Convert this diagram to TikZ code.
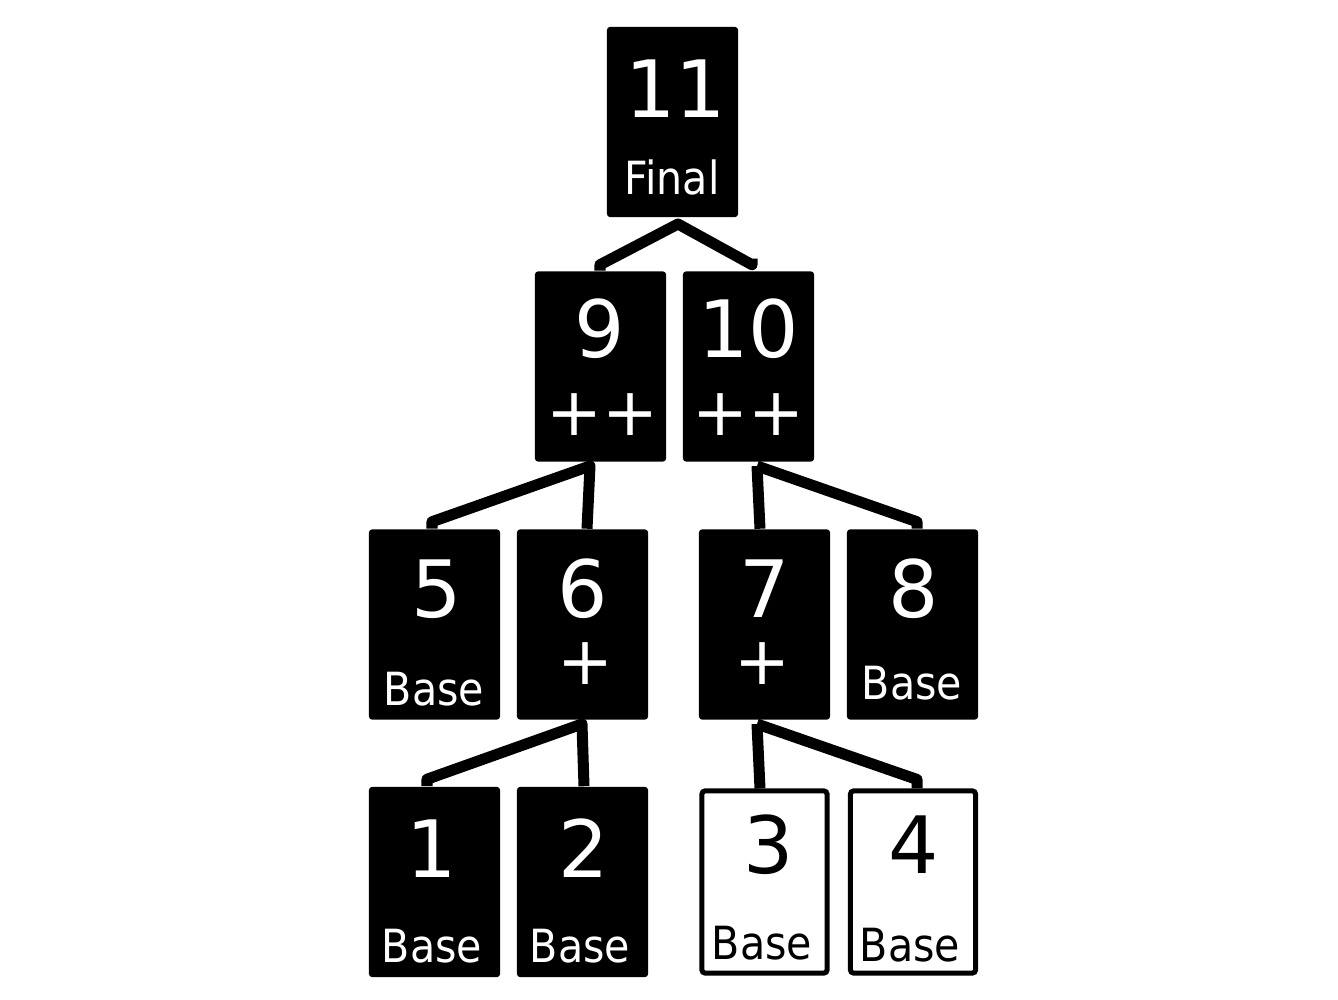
\documentclass[tikz,border=0pt]{standalone}
\usepackage{fontspec}
\setmainfont{DejaVu Sans}
\newfontfamily\tagfont[FakeStretch=0.9]{DejaVu Sans}
\begin{document}
\begin{tikzpicture}[x=0.01cm,y=-0.01cm,
    card/.style={fill=black, rounded corners=0.3mm, minimum width=1.31cm, minimum height=1.9cm, inner sep=0pt},
    opencard/.style={draw=black, fill=white, line width=0.05cm, rounded corners=0.3mm, minimum width=1.25cm, minimum height=1.82cm, inner sep=0pt},
    num/.style={anchor=base, inner sep=0pt, text=white, font=\fontsize{22.5}{26}\selectfont},
    tag/.style={anchor=base, inner sep=0pt, text=white, font=\tagfont\fontsize{13}{15}\selectfont},
    op/.style={inner sep=0pt, text=white, font=\fontsize{19}{22}\selectfont},
    link/.style={line width=0.11cm, line join=round}]
  \useasboundingbox (0,0) rectangle (1338,1000);
  % boxes
  \node[card] (n11) at (672.5,122) {};
  \node[card] (n9) at (600.5,366.5) {};
  \node[card] (n10) at (748.5,366.5) {};
  \node[card] (n5) at (434.5,624.5) {};
  \node[card] (n6) at (582.5,624.5) {};
  \node[card] (n7) at (764.5,624.5) {};
  \node[card] (n8) at (912.5,624.5) {};
  \node[card] (n1) at (434.5,882) {};
  \node[card] (n2) at (582.5,882) {};
  \node[opencard] (n3) at (764.5,882) {};
  \node[opencard] (n4) at (913,882) {};
  % texts
  \node[num] (t11) at (676,117) {11};
  \node[tag] (l11) at (672,195) {Final};
  \node[num] (t9) at (600,357) {9};
  \node[op] (o9) at (602,415) {++};
  \node[num] (t10) at (749,357) {10};
  \node[op] (o10) at (748,415) {++};
  \node[num] (t5) at (437,617) {5};
  \node[tag] (l5) at (434,705) {Base};
  \node[num] (t6) at (583,617) {6};
  \node[op] (o6) at (585,664) {+};
  \node[num] (t7) at (765,617) {7};
  \node[op] (o7) at (762,664) {+};
  \node[num] (t8) at (914,617) {8};
  \node[tag] (l8) at (912,699) {Base};
  \node[num] (t1) at (432,877) {1};
  \node[tag] (l1) at (432,962) {Base};
  \node[num] (t2) at (584,877) {2};
  \node[tag] (l2) at (580,962) {Base};
  \node[num, text=black] (t3) at (769,873) {3};
  \node[tag, text=black] (l3) at (762,959) {Base};
  \node[num, text=black] (t4) at (914,873) {4};
  \node[tag, text=black] (l4) at (910,961) {Base};
  % links
  \coordinate (a11) at (678,224);
  \coordinate (a9) at (590,466);
  \coordinate (a10) at (757,466);
  \coordinate (a6) at (582,724);
  \coordinate (a7) at (757,724);
  \draw[link] ([xshift=-0.005cm]n9.north) -- ++(0,-6) -- (a11) -- ([xshift=0.035cm,yshift=0.06cm]n10.north) -- ++(0,-6);
  \draw[link] ([xshift=-0.025cm]n5.north) -- ++(0,-7) -- (a9) -- ([xshift=0.045cm]n6.north);
  \draw[link] (a10) -- ([xshift=-0.045cm]n7.north);
  \draw[link] (a10) -- ([xshift=0.045cm,yshift=0.07cm]n8.north) -- ++(0,7);
  \draw[link] ([xshift=-0.075cm]n1.north) -- ++(0,-7) -- (a6) -- ([xshift=0.015cm]n2.north);
  \draw[link] (a7) -- ([xshift=-0.045cm]n3.north);
  \draw[link] (a7) -- ([xshift=0.04cm,yshift=0.09cm]n4.north) -- ++(0,9);
\end{tikzpicture}
\end{document}
